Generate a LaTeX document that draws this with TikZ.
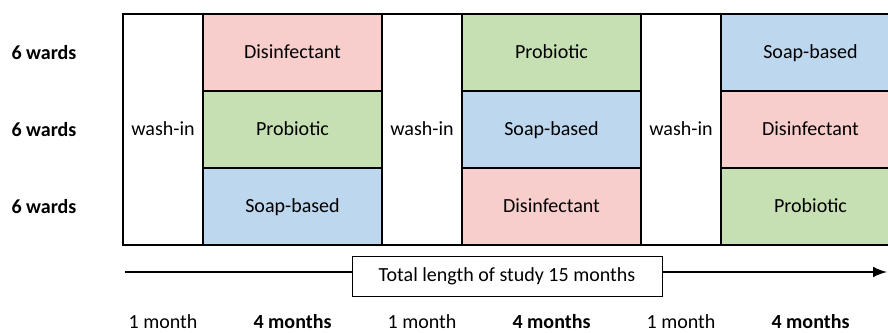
\documentclass[tikz,border=0pt]{standalone}
\usepackage{fontspec}
\setmainfont{Carlito}
\usepackage{tikz}
\usetikzlibrary{shapes,arrows,positioning}

\definecolor{DisRed}{RGB}{248,206,204}
\definecolor{ProGreen}{RGB}{198,224,180}
\definecolor{SoapBlue}{RGB}{189,215,238}

\begin{document}
\begin{tikzpicture}[x=0.02cm, y=-0.02cm, font=\fontsize{11.4}{13}\selectfont]
			\tikzstyle{Cell}	= [rectangle, draw, line width=1.2pt, minimum width=3.58cm, minimum height=1.54cm, inner sep=0pt, text height=1.9ex, text depth=0.4ex]
			\tikzstyle{Wash}	= [rectangle, draw, line width=1.2pt, fill=white, minimum width=1.6cm, minimum height=4.62cm, inner sep=0pt, text height=1.9ex, text depth=0.4ex]
			\tikzstyle{Dis}		= [fill = DisRed]
			\tikzstyle{Pro}		= [fill = ProGreen]
			\tikzstyle{Soap}	= [fill = SoapBlue]
			\tikzstyle{Wards}	= [font=\fontsize{11.4}{13}\selectfont\bfseries]
			\tikzstyle{Month}	= [anchor=base, inner sep=0pt]
			\tikzstyle{Time}	= [line width=1.7pt, -latex]

			\useasboundingbox (0,0) rectangle (888,333);

			\node (w1) at (163,129.5) [Wash] {wash-in};
			\node (w2) at (422,129.5) [Wash] {wash-in};
			\node (w3) at (681,129.5) [Wash] {wash-in};

			\node (a1) at (292.5,52.5) [Cell][Dis] {Disinfectant};
			\node (a2) at (292.5,129.5) [Cell][Pro] {Probiotic};
			\node (a3) at (292.5,206.5) [Cell][Soap] {Soap-based};

			\node (b1) at (551.5,52.5) [Cell][Pro] {Probiotic};
			\node (b2) at (551.5,129.5) [Cell][Soap] {Soap-based};
			\node (b3) at (551.5,206.5) [Cell][Dis] {Disinfectant};

			\node (c1) at (810.5,52.5) [Cell][Soap] {Soap-based};
			\node (c2) at (810.5,129.5) [Cell][Dis] {Disinfectant};
			\node (c3) at (810.5,206.5) [Cell][Pro] {Probiotic};

			\node (r1) at (44,52.5) [Wards] {6 wards};
			\node (r2) at (44,129.5) [Wards] {6 wards};
			\node (r3) at (44,206.5) [Wards] {6 wards};

			\coordinate (start) at (125,272);
			\coordinate (end) at (887,272);
			\draw [Time] (start) to (end);
			\node (total) at (507,276) [rectangle, draw, fill=white, minimum width=6.2cm, minimum height=0.8cm] {Total length of study 15 months};

			\node (m1) at (163,329) [Month] {1 month};
			\node (m2) at (292.5,329) [Month][Wards] {4 months};
			\node (m3) at (422,329) [Month] {1 month};
			\node (m4) at (551.5,329) [Month][Wards] {4 months};
			\node (m5) at (681,329) [Month] {1 month};
			\node (m6) at (810.5,329) [Month][Wards] {4 months};
		\end{tikzpicture}
\end{document}
